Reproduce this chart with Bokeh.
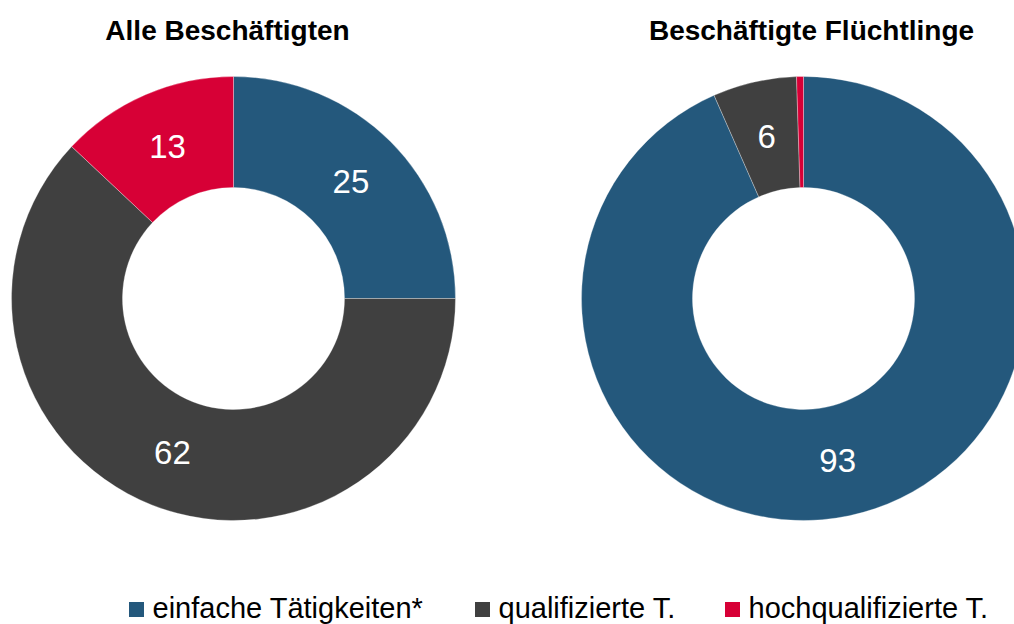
import math
from bokeh.plotting import figure
from bokeh.models import Range1d, ColumnDataSource
from bokeh.core.properties import value
from bokeh.embed import file_html
from bokeh.resources import INLINE

# ---- data ----
categories = ["einfache Tätigkeiten*", "qualifizierte T.", "hochqualifizierte T."]
colors = ["#24587C", "#404040", "#D70036"]
titles = ["Alle Beschäftigten", "Beschäftigte Flüchtlinge"]
alle_values = [25, 62, 13]
alle_labels = ["25", "62", "13"]
fluechtlinge_values = [93.4, 6.1, 0.5]
fluechtlinge_labels = ["93", "6", ""]

# ---- layout (pixels of the picture; data y = 624 - picture y) ----
W, H = 1014, 624
def sy(y):
    return H - y

centers = [(233, 298), (803, 298)]
R_OUT, R_IN, R_LAB = 222, 111, 166
title_x = [227, 811]
title_mid = 30
legend_sq_x = [136, 482, 732]
legend_txt_x = [152, 498, 748]
legend_mid = 607
legend_sq_mid = 609

p = figure(width=W, height=H, x_range=Range1d(0, W), y_range=Range1d(0, H),
           output_backend="svg", toolbar_location=None, min_border=0)
p.axis.visible = False
p.grid.visible = False
p.outline_line_color = None

FONT = value("Liberation Sans")

for (cx, cy), vals, labs, title, tx in zip(centers, [alle_values, fluechtlinge_values],
                                            [alle_labels, fluechtlinge_labels], titles, title_x):
    total = float(sum(vals))
    starts, ends, lx, ly = [], [], [], []
    cum = 0.0
    for v in vals:
        s = math.pi / 2 - 2 * math.pi * cum / total
        e = math.pi / 2 - 2 * math.pi * (cum + v) / total
        m = math.pi / 2 - 2 * math.pi * (cum + v / 2) / total
        starts.append(s)
        ends.append(e)
        lx.append(cx + R_LAB * math.cos(m))
        ly.append(sy(cy) + R_LAB * math.sin(m))
        cum += v
    src = ColumnDataSource(dict(x=[cx] * len(vals), y=[sy(cy)] * len(vals), s=starts, e=ends,
                                c=colors, lx=lx, ly=ly, t=labs))
    p.annular_wedge(x="x", y="y", inner_radius=R_IN, outer_radius=R_OUT,
                    start_angle="s", end_angle="e", direction="clock",
                    fill_color="c", line_color="white", line_width=0.5, line_alpha=0.6,
                    source=src)
    p.text(x="lx", y="ly", text="t", source=src, text_color="white",
           text_font=FONT, text_font_size="33px", text_align="center",
           text_baseline="middle")
    p.text(x=[tx], y=[sy(title_mid)], text=[title], text_font=FONT,
           text_font_style="bold", text_font_size="28px", text_align="center",
           text_baseline="middle", text_color="black")

# legend
p.rect(x=legend_sq_x, y=[sy(legend_sq_mid)] * 3, width=15, height=15,
       fill_color=colors, line_color=None)
p.text(x=legend_txt_x, y=[sy(legend_mid)] * 3, text=categories, text_font=FONT,
       text_font_size="29px", text_align="left", text_baseline="middle",
       text_color="black")

open("out.html", "w").write(file_html(p, INLINE))
